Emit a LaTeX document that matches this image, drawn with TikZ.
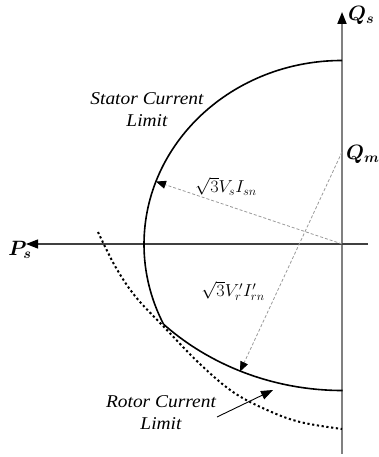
\documentclass[tikz,border=0pt]{standalone}
\usepackage{amsmath}
\usepackage{fontspec}
\setmainfont{Liberation Serif}
\usetikzlibrary{arrows.meta}
\begin{document}
\begin{tikzpicture}[x=1pt,y=1pt,
  vaxis/.style={draw=black!50, line width=1.8pt},
  haxis/.style={draw=black!75, line width=1.1pt},
  bigtip/.style={-{Triangle[length=12pt,width=9pt,color=black]}},
  smalltip/.style={-{Triangle[length=10pt,width=8pt,color=black]}},
  limcurve/.style={draw=black, line width=1.6pt},
  dotcurve/.style={draw=black, line width=2pt, dash pattern=on 2.2pt off 2.6pt},
  radline/.style={draw=black!40, line width=0.8pt, dash pattern=on 3pt off 2pt},
  lbl/.style={font=\fontsize{18}{22}\selectfont\itshape, inner sep=0pt},
  mlbl/.style={font=\fontsize{18}{21}\selectfont, inner sep=0pt},
  blbl/.style={font=\fontsize{22}{24}\selectfont, inner sep=0pt}
]
\useasboundingbox (0,0) rectangle (378,457);
% key points
\coordinate (O) at (342,213);
\coordinate (Qm) at (342,305);
\coordinate (Vbot) at (342,3);
\coordinate (Vtop) at (342,445);
\coordinate (Hr) at (368,213);
\coordinate (Hl) at (26,213);
\coordinate (Stop) at (342,396.5);
\coordinate (J) at ({342+198*cos(205.7)},{212.5+184*sin(205.7)});
\coordinate (St) at ({342+198*cos(160)},{212.5+184*sin(160)});
\coordinate (Rt) at ({342+259*cos(246.8)},{305+239*sin(246.8)});
\coordinate (Ra) at (217,40);
\coordinate (Rb) at (273,67);
% axes
\draw[vaxis,bigtip] (Vbot) -- (Vtop);
\draw[haxis,bigtip] (Hr) -- (Hl);
% stator current limit
\draw[limcurve] (Stop) arc[start angle=90, end angle=205.7, x radius=198pt, y radius=184pt];
% rotor current limit
\draw[limcurve] (J) arc[start angle=226.3, end angle=270, x radius=259pt, y radius=239pt];
% dotted rotor limit
\draw[dotcurve] plot[smooth, tension=0.6] coordinates {(98,225) (115,191) (135,161) (164,130) (200,93) (233,65) (267,47) (300,35) (342,28)};
% radii
\draw[radline,smalltip] (O) -- (St);
\draw[radline,smalltip] (Qm) -- (Rt);
% labels
\node[lbl, align=center] (stlab) at (147,346) {\scalebox{1.08}[1]{\begin{tabular}{@{}c@{}}Stator Current\\Limit\end{tabular}}};
\node[lbl, align=center] (rtlab) at (161,43) {\scalebox{1.08}[1]{\begin{tabular}{@{}c@{}}Rotor Current\\Limit\end{tabular}}};
\draw[black, line width=0.9pt, -{Triangle[length=12pt,width=9pt]}] (Ra) -- (Rb);
\node[mlbl] (isn) at (226,271) {\scalebox{1.05}[1]{$\sqrt{3}V_sI_{sn}$}};
\node[mlbl] (irn) at (233,166) {\scalebox{1.05}[1]{$\sqrt{3}V_r'I_{rn}'$}};
\node[blbl, anchor=west] (qs) at (348,442) {$\boldsymbol{Q_s}$};
\node[blbl] (ps) at (20,207) {$\boldsymbol{P_s}$};
\node[blbl, anchor=west] (qm) at (346,303) {$\boldsymbol{Q_m}$};
\end{tikzpicture}
\end{document}
